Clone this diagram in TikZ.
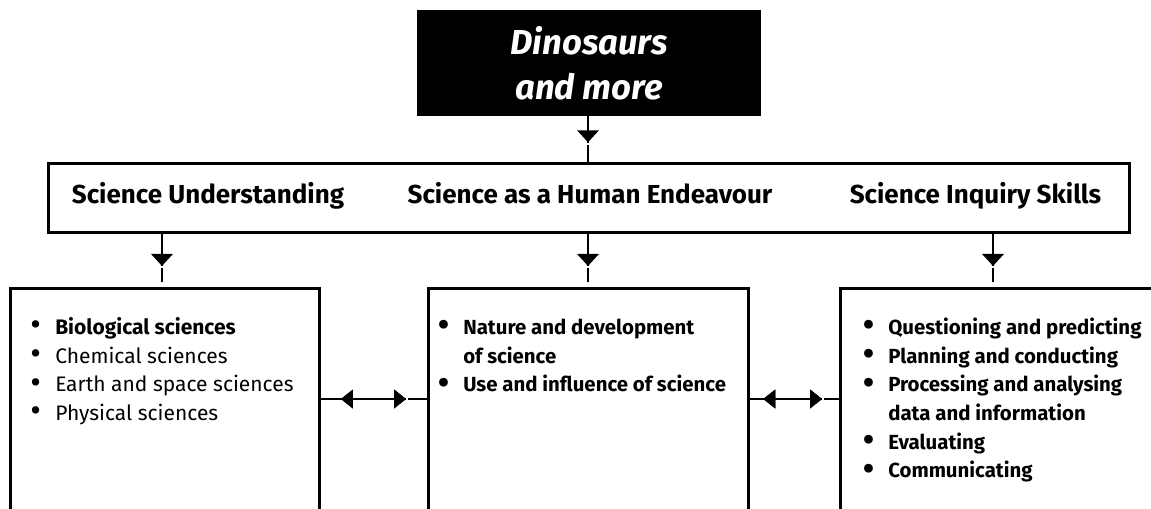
\documentclass[tikz,border=0pt]{standalone}
\usepackage{fontspec}
\setmainfont{Fira Sans}
\usetikzlibrary{decorations.markings,calc}
\tikzset{
  box/.style={draw=black, line width=2.2pt, inner sep=0pt, anchor=north west},
  conn/.style={draw=black, line width=2.2pt},
  tipfwd/.style={postaction={decorate}, decoration={markings, mark=at position #1 with {\fill[black] (-12,-11)--(0,0)--(-12,11)--cycle; \fill[white] (0.4,-3) rectangle (2.4,3);}}},
  tipback/.style={postaction={decorate}, decoration={markings, mark=at position #1 with {\fill[black] (12,-9.5)--(0,0)--(12,9.5)--cycle;}}},
  tipfwdh/.style={postaction={decorate}, decoration={markings, mark=at position #1 with {\fill[black] (-12,-9.5)--(0,0)--(-12,9.5)--cycle; \fill[white] (0.4,-3) rectangle (2.4,3);}}},
  head/.style={font=\bfseries\fontsize{19.5}{24}\selectfont, anchor=base, inner sep=0pt},
  list/.style={anchor=base west, inner sep=0pt, font=\fontsize{15.75}{21.5}\selectfont},
  blist/.style={list, font=\bfseries\fontsize{15.3}{21.5}\selectfont},
}
\newcommand{\bul}{\makebox[18.75pt][l]{\smash{\raisebox{-0.12ex}{\scalebox{1.55}{\textbullet}}}}}
\begin{document}
\begin{tikzpicture}[x=0.75pt, y=-0.75pt]
\clip (0,0) rectangle (1151,508);
\fill[white] (0,0) rectangle (1151,508);
% title
\node[fill=black, text=white, inner sep=0pt, minimum width=258pt, minimum height=79.5pt, align=center,
  font=\bfseries\itshape\fontsize{26}{33.75}\selectfont] (title) at (589,63) {Dinosaurs\\and more};
% bar
\node[box, minimum width=810.75pt, minimum height=51.75pt] (bar) at (47,162) {};
\node[head] (h1) at (208,203) {Science Understanding};
\node[head] (h2) at (590,203) {Science as a Human Endeavour};
\node[head] (h3) at (975.5,203) {Science Inquiry Skills};
% boxes
\node[box, minimum width=231.75pt, minimum height=189.75pt] (lbox) at (9,287) {};
\node[box, minimum width=240pt, minimum height=189.75pt] (mbox) at (427,287) {};
\node[box, minimum width=255.75pt, minimum height=189.75pt] (rbox) at (839,287) {};
\coordinate (lc) at (162,287);
\coordinate (mc) at (588,287);
\coordinate (rc) at (993,287);
\coordinate (row) at (0,399);
% lists
\node[list] (l1) at (30,334.5) {\begin{tabular}[t]{@{}l@{}l@{}}
\bul&\textbf{Biological sciences}\\
\bul&Chemical sciences\\
\bul&Earth and space sciences\\
\bul&Physical sciences
\end{tabular}};
\node[blist] (l2) at (438,334.5) {\begin{tabular}[t]{@{}l@{}l@{}}
\bul&Nature and development\\
&of science\\
\bul&Use and influence of science
\end{tabular}};
\node[blist] (l3) at (863,334.5) {\begin{tabular}[t]{@{}l@{}l@{}}
\bul&Questioning and predicting\\
\bul&Planning and conducting\\
\bul&Processing and analysing\\
&data and information\\
\bul&Evaluating\\
\bul&Communicating
\end{tabular}};
% connectors
\draw[conn, tipfwd=19.5pt] (title.south -| mc) -- (bar.north -| mc);
\draw[conn, tipfwd=24pt, shorten >=3.75pt] (bar.south -| lc) -- (lc);
\draw[conn, tipfwd=24pt, shorten >=3.75pt] (bar.south -| mc) -- (mc);
\draw[conn, tipfwd=24pt, shorten >=3.75pt] (bar.south -| rc) -- (rc);
\draw[conn, tipback=15pt, tipfwdh=-15.75pt] (lbox.east |- row) -- (mbox.west |- row);
\draw[conn, tipback=10pt, tipfwdh=-12.75pt] (mbox.east |- row) -- (rbox.west |- row);
\end{tikzpicture}
\end{document}
